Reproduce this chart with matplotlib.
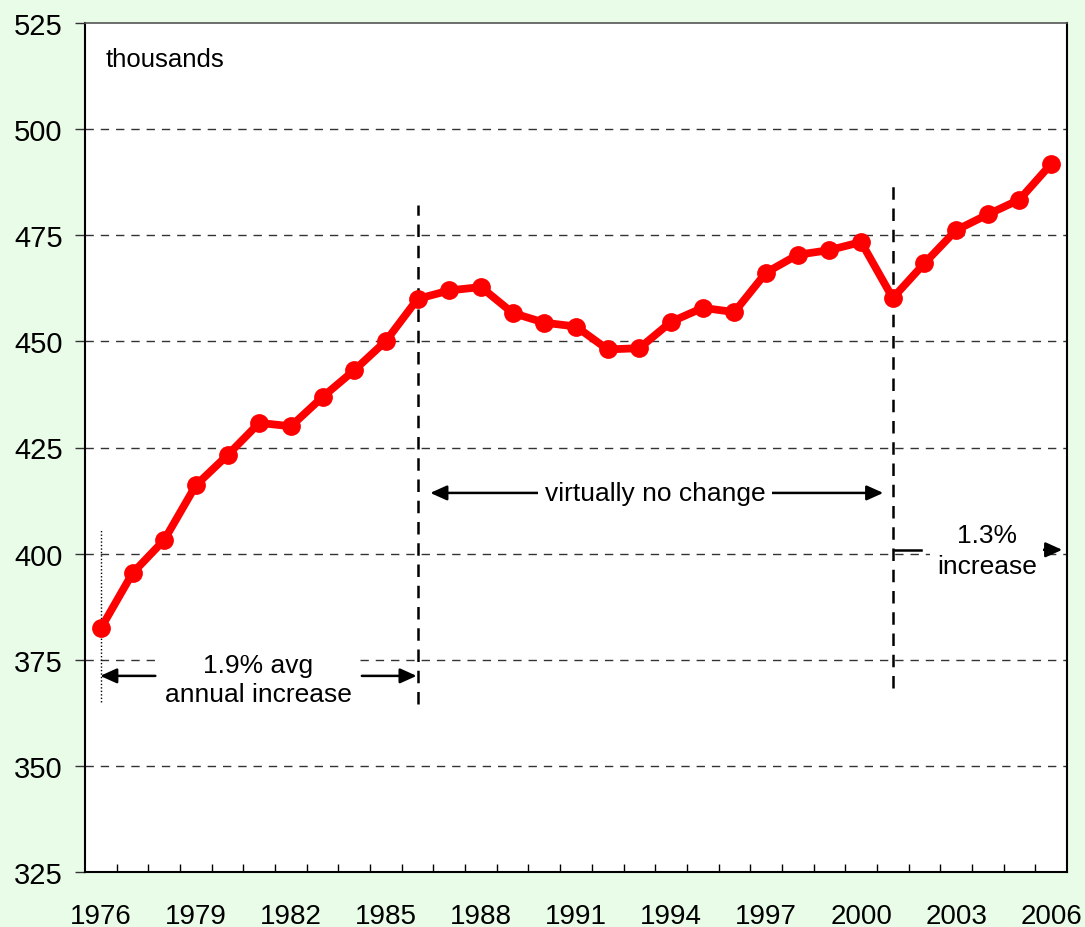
import matplotlib.pyplot as plt
import numpy as np

years = list(range(1976, 2007))
values = [382.4, 395.4, 403.2, 416.1, 423.2, 430.8, 430.0, 436.9, 443.2, 450.1,
          460.0, 462.0, 462.8, 456.7, 454.4, 453.5, 448.1, 448.4, 454.6, 457.9,
          456.9, 466.2, 470.4, 471.5, 473.4, 460.2, 468.4, 476.2, 479.9, 483.4,
          491.8]
ytick_vals = [325, 350, 375, 400, 425, 450, 475, 500, 525]
xtick_years = list(range(1976, 2007, 3))

plt.rcParams['font.family'] = ['Liberation Sans', 'DejaVu Sans']

fig = plt.figure(figsize=(10.85, 9.28), dpi=100)
fig.patch.set_facecolor('#e8fce8')
ax = fig.add_axes([85 / 1085, 1 - 873 / 928, 982 / 1085, 849 / 928])
ax.set_facecolor('white')

# gridlines
for v in ytick_vals[1:-1]:
    ax.axhline(v, color='#333333', lw=1.0, ls=(0, (6, 5)), zorder=1)

ax.plot(years, values, color='#ff0000', lw=5.6, marker='o', markersize=12.5,
        solid_capstyle='round', zorder=5)

ax.set_xlim(1975.5, 2006.5)
ax.set_ylim(325, 525)

# period separators
ax.plot([1986, 1986], [364.5, 482.2], color='black', lw=1.8, ls=(0, (5, 3.5)), zorder=2)
ax.plot([2001, 2001], [368.3, 486.5], color='black', lw=1.8, ls=(0, (5, 3.5)), zorder=2)
ax.plot([1976, 1976], [365.0, 405.5], color='black', lw=1.0, ls=(0, (1, 1.5)), zorder=2)

arrow_kw = dict(arrowstyle='-|>,head_length=1.0,head_width=0.45', color='black',
                lw=1.8, mutation_scale=10, shrinkA=0, shrinkB=0)
box = dict(boxstyle='square,pad=0.25', facecolor='white', edgecolor='none')

# 1.9% segment
ax.annotate('', xy=(1975.98, 371.2), xytext=(1977.72, 371.2), arrowprops=arrow_kw)
ax.annotate('', xy=(1985.97, 371.2), xytext=(1984.24, 371.2), arrowprops=arrow_kw)
ax.text(1980.97, 370.3, '1.9% avg\nannual increase', ha='center', va='center',
        fontsize=19, linespacing=1.25, bbox=box, zorder=4)

# no change segment
ax.annotate('', xy=(1986.4, 414.3), xytext=(1989.85, 414.3), arrowprops=arrow_kw)
ax.annotate('', xy=(2000.7, 414.3), xytext=(1997.12, 414.3), arrowprops=arrow_kw)
ax.text(1993.5, 414.3, 'virtually no change', ha='center', va='center', fontsize=19,
        bbox=box, zorder=4)

# 1.3% segment
ax.plot([2001.07, 2001.9], [400.9, 400.9], color='black', lw=1.8, zorder=3)
ax.annotate('', xy=(2006.35, 400.9), xytext=(2005.55, 400.9), arrowprops=arrow_kw)
ax.text(2003.97, 400.8, '1.3%\nincrease', ha='center', va='center', fontsize=19,
        linespacing=1.38, bbox=box, zorder=4)

ax.text(0.021, 0.9576, 'thousands', transform=ax.transAxes, ha='left', va='center',
        fontsize=18.5)

ax.set_yticks(ytick_vals)
ax.tick_params(axis='y', direction='out', length=7, width=1, color='#333333',
               labelsize=21, pad=9)
ax.set_xticks(xtick_years)
ax.set_xticks(np.arange(1976.5, 2006, 1.0), minor=True)
ax.tick_params(axis='x', which='major', length=0, labelsize=20, pad=22)
ax.tick_params(axis='x', which='minor', direction='in', length=6, width=1)

for side in ['left', 'bottom', 'right']:
    ax.spines[side].set_color('black')
    ax.spines[side].set_linewidth(1.5)
ax.spines['top'].set_color('#555555')
ax.spines['top'].set_linewidth(1.2)

fig.savefig('out.png', dpi=100, facecolor=fig.get_facecolor())
